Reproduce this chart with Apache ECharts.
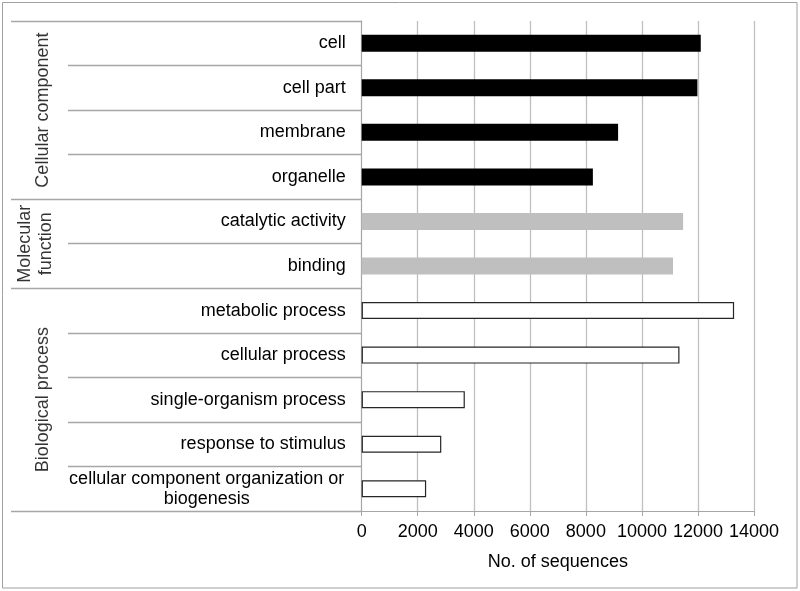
<!DOCTYPE html>
<html>
<head>
<meta charset="utf-8">
<script src="https://cdn.jsdelivr.net/npm/echarts@6/dist/echarts.min.js"></script>
<style>html,body{margin:0;padding:0;background:#fff}#c{width:800px;height:591px}</style>
</head>
<body>
<div id="c"></div>
<script>
// ---- data ----
const groupNames = ['Cellular component', 'Molecular\nfunction', 'Biological process'];
const ccCategories = ['cell', 'cell part', 'membrane', 'organelle'];
const ccValues = [12100, 11980, 9150, 8250];
const mfCategories = ['catalytic activity', 'binding'];
const mfValues = [11470, 11110];
const bpCategories = ['metabolic process', 'cellular process', 'single-organism process', 'response to stimulus', 'cellular component organization or\nbiogenesis'];
const bpValues = [13290, 11340, 3680, 2840, 2300];
const xTicks = [0, 2000, 4000, 6000, 8000, 10000, 12000, 14000];

// ---- styles ----
const FONT = 'Arial, "Liberation Sans", sans-serif';
const groupStyles = [
  { color: '#000000', borderColor: '#000000', borderWidth: 0 },
  { color: '#bfbfbf', borderColor: '#bfbfbf', borderWidth: 0 },
  { color: '#ffffff', borderColor: '#262626', borderWidth: 1.2 }
];
const groupLabelX = [0.091, 0.07, 0.091];
const innerDividerStart = 0.1625;
const lineColor = '#a6a6a6';

const groups = [
  { cats: ccCategories, vals: ccValues },
  { cats: mfCategories, vals: mfValues },
  { cats: bpCategories, vals: bpValues }
];
const categories = [];
const barData = [];
const groupPoints = [];
const dividers = [];
let start = 0;
groups.forEach((g, gi) => {
  g.cats.forEach((c, i) => {
    categories.push(c);
    barData.push({ value: g.vals[i], itemStyle: groupStyles[gi] });
  });
  groupPoints.push({ name: groupNames[gi], value: [groupLabelX[gi], start + g.cats.length / 2] });
  dividers.push([{ coord: [0, start] }, { coord: [1, start] }]);
  for (let k = 1; k < g.cats.length; k++) {
    dividers.push([{ coord: [innerDividerStart, start + k] }, { coord: [1, start + k] }]);
  }
  start += g.cats.length;
});
dividers.push([{ coord: [0, start] }, { coord: [1, start] }]);
const total = start;

const chart = echarts.init(document.getElementById('c'), null, { renderer: 'canvas' });
chart.setOption({
  animation: false,
  backgroundColor: '#fff',
  textStyle: { fontFamily: FONT },
  graphic: [{
    type: 'rect', shape: { x: 2.5, y: 2.5, width: 794.5, height: 585.5 },
    style: { fill: 'none', stroke: '#a0a0a0', lineWidth: 1 }, silent: true
  }],
  grid: [
    { left: 361.7, right: 46, top: 21, bottom: 80 },
    { left: 11, width: 350.7, top: 21, bottom: 80 }
  ],
  xAxis: [{
    gridIndex: 0, type: 'value', min: xTicks[0], max: xTicks[xTicks.length - 1], interval: 2000,
    axisLine: { show: true, lineStyle: { color: lineColor, width: 1 } },
    axisTick: { show: true, length: 5, lineStyle: { color: lineColor } },
    splitLine: { show: true, lineStyle: { color: '#bfbfbf', width: 1.3 } },
    axisLabel: { color: '#000', fontSize: 18, fontFamily: FONT, margin: 12, formatter: v => String(v) },
    name: 'No. of sequences', nameLocation: 'middle', nameGap: 42,
    nameTextStyle: { color: '#000', fontSize: 18, fontFamily: FONT }
  }, {
    gridIndex: 1, type: 'value', min: 0, max: 1, show: false
  }],
  yAxis: [{
    gridIndex: 0, type: 'category', inverse: true, data: categories,
    axisLine: { show: true, lineStyle: { color: lineColor, width: 1 } },
    axisTick: { show: false },
    splitLine: { show: false },
    axisLabel: {
      color: '#000', fontSize: 18, fontFamily: FONT, margin: 16, lineHeight: 20,
      formatter: function (v) {
        if (v.indexOf('\n') >= 0) {
          return v.split('\n').map(s => '{c|' + s + '}').join('\n');
        }
        return v;
      },
      rich: { c: { width: 278, align: 'center', fontSize: 18, fontFamily: FONT, color: '#000', lineHeight: 20 } }
    }
  }, {
    gridIndex: 1, type: 'value', min: 0, max: total, inverse: true, show: false
  }],
  series: [{
    type: 'bar', xAxisIndex: 0, yAxisIndex: 0, data: barData, barWidth: 17
  }, {
    type: 'scatter', xAxisIndex: 1, yAxisIndex: 1, symbolSize: 0, data: groupPoints,
    label: {
      show: true, position: 'inside', rotate: 90, formatter: '{b}',
      color: '#000', fontSize: 18, fontFamily: FONT, lineHeight: 21, align: 'center', verticalAlign: 'middle'
    },
    markLine: {
      silent: true, symbol: ['none', 'none'], label: { show: false },
      lineStyle: { color: lineColor, width: 1.3, type: 'solid' },
      data: dividers
    }
  }]
});
</script>
</body>
</html>
